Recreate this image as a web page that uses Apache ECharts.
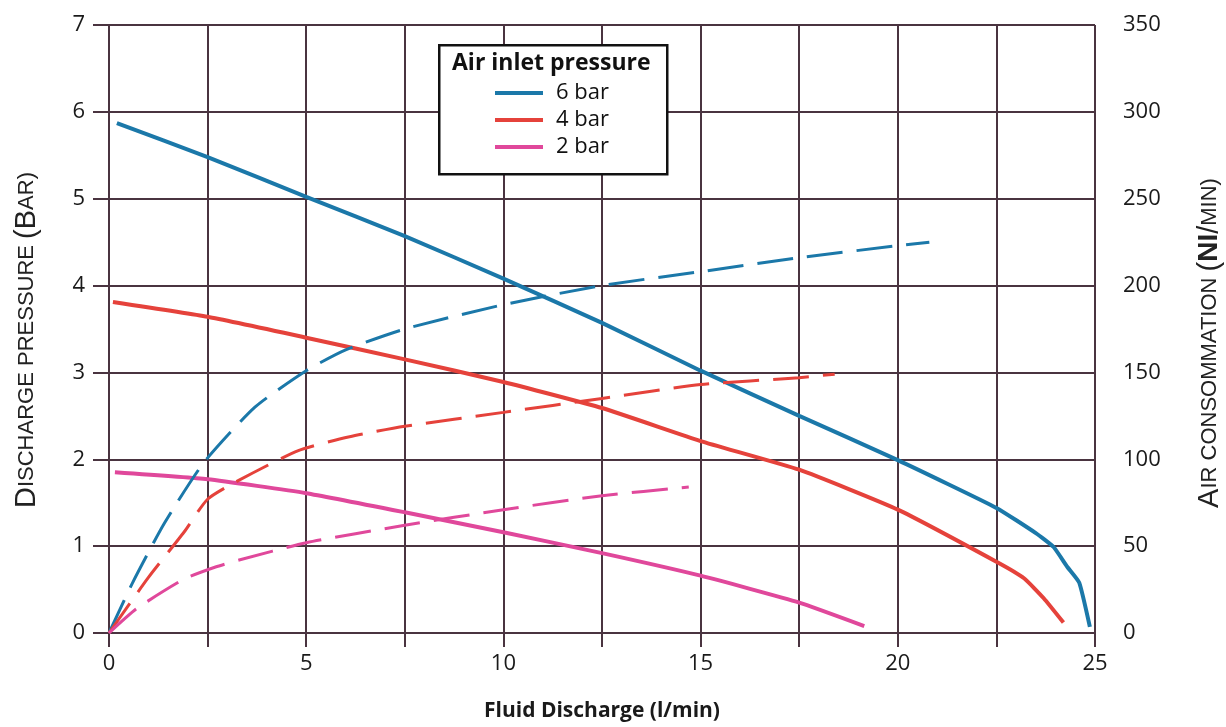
<!DOCTYPE html>
<html>
<head>
<meta charset="utf-8">
<script src="https://cdn.jsdelivr.net/npm/echarts@6/dist/echarts.min.js"></script>
<style>
  html, body { margin: 0; padding: 0; background: #fff; }
  #chart { width: 1226px; height: 727px; }
</style>
</head>
<body>
<div id="chart"></div>
<script>
// discharge pressure curves (bar) vs fluid discharge (l/min)
const flow6 = [0.2, 2.5, 5, 7.5, 10, 12.5, 15, 17.5, 20, 22.5, 23.5, 23.95, 24.3, 24.6, 24.87];
const press6 = [5.87, 5.48, 5.02, 4.57, 4.08, 3.57, 3.02, 2.5, 1.99, 1.44, 1.15, 0.99, 0.76, 0.58, 0.07];
const flow4 = [0.1, 2.5, 5, 7.5, 10, 12.5, 15, 17.5, 20, 22.5, 23.2, 23.7, 24.2];
const press4 = [3.81, 3.64, 3.4, 3.15, 2.89, 2.59, 2.21, 1.88, 1.42, 0.82, 0.63, 0.4, 0.12];
const flow2 = [0.15, 2.5, 5, 7.5, 10, 12.5, 15, 17.5, 19.15];
const press2 = [1.85, 1.77, 1.61, 1.39, 1.16, 0.92, 0.66, 0.35, 0.08];

// air consumption curves (Nl/min), dashed, right axis
const airFlow6 = [0, 0.6, 1.4, 2.4, 3.7, 5, 6, 7.5, 10, 12.5, 15, 17.5, 20, 20.8];
const air6 = [0, 29, 63, 98, 130, 151, 163, 175, 189, 200, 208, 216, 223, 225];
const airFlow4 = [0, 1, 1.9, 2.5, 3.3, 4.8, 6.1, 7.5, 10, 12.5, 15, 17.5, 18.4];
const air4 = [0, 32, 58, 77, 88, 105, 113, 119, 127, 135, 143, 147, 149];
const airFlow2 = [0, 0.7, 1.9, 2.7, 3.3, 5, 7.5, 10, 12.5, 14.7];
const air2 = [0, 14, 31, 38, 42, 52, 62, 71, 79, 84];

const legendNames = ['6 bar', '4 bar', '2 bar'];
const pressTicks = [0, 7, 1];
const airTicks = [0, 350, 50];

const gridColor = '#4a3440';
const blue = '#1b78a9';
const red = '#e5423b';
const pink = '#e0489b';
const labelFont = '"Open Sans", sans-serif';
const capsFont = '"Liberation Sans", Arial, sans-serif';

const zip = (xs, ys) => xs.map((x, i) => [x, ys[i]]);

const chart = echarts.init(document.getElementById('chart'));

const solid = (name, color, xs, ys) => ({
    name: name,
    type: 'line',
    xAxisIndex: 0,
    yAxisIndex: 0,
    data: zip(xs, ys),
    symbol: 'none',
    smooth: 0.15,
    lineStyle: { color: color, width: 4 },
    itemStyle: { color: color },
    z: 3
});

const dashed = (name, color, xs, ys) => ({
    name: name,
    type: 'line',
    xAxisIndex: 0,
    yAxisIndex: 1,
    data: zip(xs, ys),
    symbol: 'none',
    smooth: 0.2,
    lineStyle: { color: color, width: 3, type: [36, 14] },
    itemStyle: { color: color },
    z: 3
});

const capsRich = {
    big: { fontFamily: capsFont, fontSize: 29, color: '#222' },
    bigb: { fontFamily: capsFont, fontSize: 28, fontWeight: 'bold', color: '#222' },
    small: { fontFamily: capsFont, fontSize: 22, color: '#222' }
};

const option = {
    animation: false,
    backgroundColor: '#fff',
    grid: { left: 109, right: 131, top: 25, bottom: 94, containLabel: false, outerBoundsMode: 'none' },
    xAxis: [
        {
            type: 'value',
            position: 'bottom',
            min: 0,
            max: 25,
            interval: 2.5,
            name: 'Fluid Discharge (l/min)',
            nameLocation: 'middle',
            nameGap: 68,
            nameTextStyle: { fontFamily: labelFont, fontSize: 21, fontWeight: 'bold', color: '#1a1a1a' },
            axisLine: { show: true, lineStyle: { color: gridColor, width: 2 } },
            axisTick: { show: true, length: 14, lineStyle: { color: gridColor, width: 2 } },
            axisLabel: {
                margin: 20,
                fontFamily: labelFont,
                fontSize: 22,
                fontWeight: 500,
                color: '#1a1a1a',
                formatter: v => (v % 5 === 0 ? String(v) : '')
            },
            splitLine: { show: true, lineStyle: { color: gridColor, width: 2 } }
        },
        {
            type: 'value',
            position: 'top',
            min: 0,
            max: 25,
            interval: 2.5,
            axisLine: { show: true, lineStyle: { color: gridColor, width: 2 } },
            axisTick: { show: true, length: 15, lineStyle: { color: gridColor, width: 2 } },
            axisLabel: { show: false },
            splitLine: { show: false }
        }
    ],
    yAxis: [
        {
            type: 'value',
            position: 'left',
            min: pressTicks[0],
            max: pressTicks[1],
            interval: pressTicks[2],
            name: '{big|D}{small|ISCHARGE PRESSURE }{big|(B}{small|AR)}',
            nameLocation: 'middle',
            nameRotate: 90,
            nameGap: 68,
            nameTextStyle: { color: '#222', rich: capsRich, padding: [0, 22, 0, 0] },
            axisLine: { show: true, lineStyle: { color: gridColor, width: 2 } },
            axisTick: { show: true, length: 16, lineStyle: { color: gridColor, width: 2 } },
            axisLabel: { margin: 24, fontFamily: labelFont, fontSize: 22, fontWeight: 500, color: '#1a1a1a' },
            splitLine: { show: true, lineStyle: { color: gridColor, width: 2 } }
        },
        {
            type: 'value',
            position: 'right',
            min: airTicks[0],
            max: airTicks[1],
            interval: airTicks[2],
            name: '{big|A}{small|IR CONSOMMATION }{big|(}{bigb|NI}{big|/}{small|MIN)}',
            nameLocation: 'middle',
            nameRotate: 90,
            nameGap: 100,
            nameTextStyle: { color: '#222', rich: capsRich, padding: [0, 28, 0, 0] },
            axisLine: { show: true, lineStyle: { color: gridColor, width: 2 } },
            axisTick: { show: true, length: 15, lineStyle: { color: gridColor, width: 2 } },
            axisLabel: { margin: 28, fontFamily: labelFont, fontSize: 22, fontWeight: 500, color: '#1a1a1a' },
            splitLine: { show: false }
        }
    ],
    graphic: [
        {
            type: 'rect',
            left: 438,
            top: 44,
            z: 10,
            shape: { width: 228, height: 129 },
            style: { fill: '#fff', stroke: '#111', lineWidth: 2.5 }
        },
        {
            type: 'text',
            left: 452,
            top: 52,
            z: 11,
            style: {
                text: 'Air inlet pressure',
                font: 'bold 23px "Open Sans", sans-serif',
                fill: '#111'
            }
        }
    ],
    legend: {
        data: legendNames,
        orient: 'vertical',
        left: 495,
        top: 82,
        padding: 0,
        icon: 'rect',
        itemWidth: 48,
        itemHeight: 4,
        itemGap: 5,
        z: 12,
        selectedMode: false,
        textStyle: { fontFamily: labelFont, fontSize: 22, fontWeight: 500, color: '#111', padding: [0, 0, 0, 8] }
    },
    series: [
        solid(legendNames[0], blue, flow6, press6),
        solid(legendNames[1], red, flow4, press4),
        solid(legendNames[2], pink, flow2, press2),
        dashed('6 bar air', blue, airFlow6, air6),
        dashed('4 bar air', red, airFlow4, air4),
        dashed('2 bar air', pink, airFlow2, air2)
    ]
};

chart.setOption(option);
window.addEventListener('resize', () => chart.resize());
</script>
</body>
</html>
